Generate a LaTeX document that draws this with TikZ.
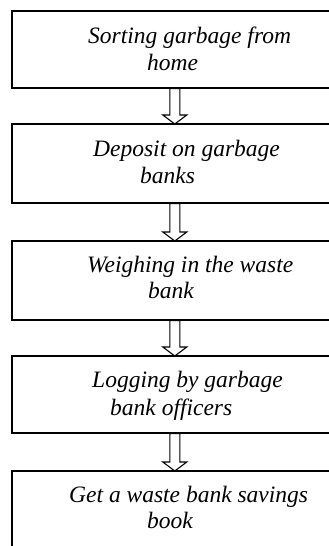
\documentclass[tikz,border=0pt]{standalone}
\usepackage{fontspec}
\setmainfont{Liberation Serif}
\usetikzlibrary{calc}
\tikzset{
  box/.style={draw=black, line width=1.6pt, rectangle, minimum width=326pt, anchor=north west, inner sep=0pt},
  lbl/.style={anchor=base west, inner sep=0pt, font=\fontsize{23.5}{27}\selectfont\itshape},
  blockarrow/.style={draw=black, line width=1.1pt, fill=white, line join=miter,
    to path={let \p1=(\tikztostart), \p2=(\tikztotarget) in
      (\x1-5pt,\y1) -- (\x1+5pt,\y1) -- (\x1+5pt,\y2+9pt) -- (\x1+12pt,\y2+9pt)
      -- (\x1,\y2) -- (\x1-12pt,\y2+9pt) -- (\x1-5pt,\y2+9pt) -- cycle}}
}
\begin{document}
\begin{tikzpicture}[x=1pt,y=-1pt]
\useasboundingbox (0,0) rectangle (329,546);
\fill[white] (0,0) rectangle (329,546);
% boxes
\node[box, minimum height=77pt] (b1) at (11,10) {};
\node[box, minimum height=79pt] (b2) at (11,123) {};
\node[box, minimum height=79pt] (b3) at (11,240) {};
\node[box, minimum height=77pt] (b4) at (11,355) {};
\node[box, minimum height=110pt] (b5) at (11,470) {};
% arrows
\path (b1.south) edge[blockarrow] ($(b2.north)+(0,1)$);
\path (b2.south) edge[blockarrow] ($(b3.north)+(0,1)$);
\path (b3.south) edge[blockarrow] ($(b4.north)+(0,1)$);
\path (b4.south) edge[blockarrow] ($(b5.north)+(0,1)$);
% texts
\node[lbl] (t1a) at (88,43) {Sorting garbage from};
\node[lbl] (t1b) at (147,70) {home};
\node[lbl] (t2a) at (93,156) {Deposit on garbage};
\node[lbl] (t2b) at (140,183) {banks};
\node[lbl] (t3a) at (87,272) {Weighing in the waste};
\node[lbl] (t3b) at (148,298) {bank};
\node[lbl] (t4a) at (92,387) {Logging by garbage};
\node[lbl] (t4b) at (110,415) {bank officers};
\node[lbl] (t5a) at (69,502) {Get a waste bank savings};
\node[lbl] (t5b) at (147,528) {book};
\end{tikzpicture}
\end{document}
